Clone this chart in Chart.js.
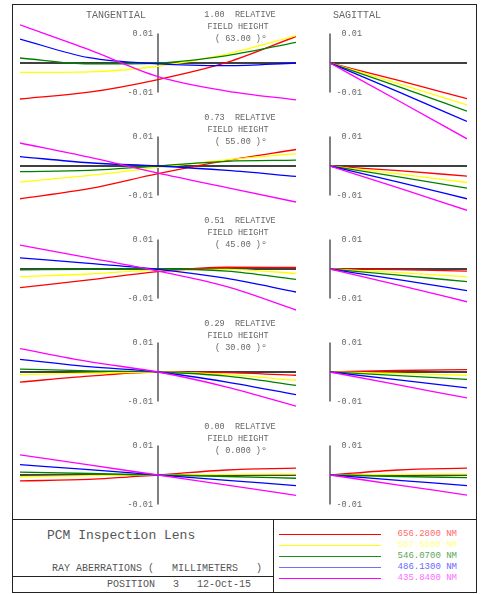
<!DOCTYPE html>
<html>
<head>
<meta charset="utf-8">
<script src="https://cdn.jsdelivr.net/npm/chart.js@4"></script>
<style>
  body { margin: 0; background: #fff; width: 485px; height: 594px; overflow: hidden; position: relative; font-family: "Liberation Mono", monospace; }
  canvas { position: absolute; }
  .frame { position: absolute; border: 1.5px solid #222; box-sizing: border-box; }
  .hline { position: absolute; height: 0; border-top: 1.5px solid #222; }
  .vline { position: absolute; width: 0; border-left: 1.5px solid #222; }
  .txt { position: absolute; color: #555; white-space: pre; line-height: 1; }
  .leg { position: absolute; height: 1.6px; left: 279px; width: 102px; }
  .legt { position: absolute; font-size: 9px; right: 28px; white-space: pre; line-height: 1; }
</style>
</head>
<body>

<div class="frame" style="left:12px;top:4px;width:465px;height:589px;"></div>
<div class="hline" style="left:12px;top:519px;width:464px;"></div>
<div class="vline" style="left:273px;top:519px;height:73px;"></div>
<div class="hline" style="left:12px;top:576px;width:261px;"></div>

<div class="txt" style="left:47px;top:529px;font-size:13px;">PCM Inspection Lens</div>
<div class="txt" style="left:52px;top:564px;font-size:10px;">RAY ABERRATIONS (   MILLIMETERS   )</div>
<div class="txt" style="left:107px;top:580px;font-size:10px;">POSITION   3   12-Oct-15</div>

<div id="legend"></div>

<script>
// ---------------------------------
// Data
const wavelengths = ['656.2800 NM', '587.5600 NM', '546.0700 NM', '486.1300 NM', '435.8400 NM'];
const lineColors = ['#ff0000', '#ffff00', '#008000', '#0000ff', '#ff00ff'];
const legendLineColors = ['#ff0000', '#ffff00', '#1a8c1a', '#7070ff', '#ff00ff'];
const textColors = ['#ff6a6a', '#ffff80', '#5aa85a', '#6a6aff', '#ff6aff'];

const fieldRel = ['1.00', '0.73', '0.51', '0.29', '0.00'];
const fieldAngle = ['63.00', '55.00', '45.00', '30.00', '0.000'];

// tangential pupil coordinates
const tanPupil = [-1, -0.5, 0, 0.5, 1];
// sagittal pupil coordinates
const sagPupil = [0, 0.5, 1];

// tangential ray errors, per field: red, yellow, green, blue, magenta
const tanField1 = [
  [-0.0122, -0.0099, -0.0056, 0.0002, 0.0090],
  [-0.0032, -0.0030, -0.0011, 0.0030, 0.0093],
  [0.0017, -0.0003, 0.0000, 0.0025, 0.0070],
  [0.0081, 0.0018, -0.0003, -0.0009, 0.0000],
  [0.0129, 0.0045, -0.0046, -0.0095, -0.0125]
];
const tanField2 = [
  [-0.0111, -0.0077, -0.0026, 0.0019, 0.0056],
  [-0.0054, -0.0032, -0.0005, 0.0021, 0.0042],
  [-0.0019, -0.0015, 0.0000, 0.0016, 0.0020],
  [0.0032, 0.0011, 0.0000, -0.0015, -0.0035],
  [0.0078, 0.0030, -0.0024, -0.0073, -0.0122]
];
const tanField3 = [
  [-0.0063, -0.0037, -0.0009, 0.0006, 0.0005],
  [-0.0026, -0.0017, -0.0003, -0.0001, -0.0015],
  [-0.0003, -0.0001, 0.0000, -0.0007, -0.0035],
  [0.0038, 0.0019, -0.0001, -0.0032, -0.0078],
  [0.0081, 0.0038, -0.0007, -0.0060, -0.0139]
];
const tanField4 = [
  [-0.0034, -0.0014, 0.0000, -0.0002, -0.0011],
  [-0.0009, -0.0004, 0.0000, -0.0009, -0.0028],
  [0.0010, 0.0004, 0.0000, -0.0014, -0.0045],
  [0.0043, 0.0018, 0.0000, -0.0034, -0.0077],
  [0.0079, 0.0035, 0.0000, -0.0051, -0.0116]
];
const tanField5 = [
  [-0.0020, -0.0015, 0.0000, 0.0017, 0.0023],
  [-0.0006, -0.0002, 0.0000, 0.0002, 0.0003],
  [0.0010, 0.0005, 0.0000, -0.0005, -0.0011],
  [0.0035, 0.0018, 0.0000, -0.0018, -0.0036],
  [0.0068, 0.0034, 0.0000, -0.0034, -0.0069]
];

// sagittal ray errors, per field: red, yellow, green, blue, magenta
const sagField1 = [
  [0, -0.0059, -0.0121],
  [0, -0.0070, -0.0142],
  [0, -0.0080, -0.0163],
  [0, -0.0098, -0.0198],
  [0, -0.0128, -0.0257]
];
const sagField2 = [
  [0, -0.0016, -0.0034],
  [0, -0.0027, -0.0056],
  [0, -0.0037, -0.0075],
  [0, -0.0055, -0.0111],
  [0, -0.0074, -0.0150]
];
const sagField3 = [
  [0, -0.0002, -0.0007],
  [0, -0.0012, -0.0026],
  [0, -0.0021, -0.0043],
  [0, -0.0036, -0.0073],
  [0, -0.0055, -0.0111]
];
const sagField4 = [
  [0, 0.0005, 0.0008],
  [0, -0.0005, -0.0011],
  [0, -0.0012, -0.0025],
  [0, -0.0027, -0.0054],
  [0, -0.0044, -0.0088]
];
const sagField5 = [
  [0, 0.0017, 0.0023],
  [0, 0.0002, 0.0003],
  [0, -0.0005, -0.0009],
  [0, -0.0018, -0.0036],
  [0, -0.0034, -0.0068]
];

const tanData = [tanField1, tanField2, tanField3, tanField4, tanField5];
const sagData = [sagField1, sagField2, sagField3, sagField4, sagField5];
const axisTicks = ['0.01', '-0.01'];
const axisMax = 0.01;

const rowCenters = [62.5, 165.5, 269, 372, 475];
const canvasH = 170;
const yLimit = 0.0288;


// ---------------------------------
// Legend (bottom right box)
let legendHtml = '';
wavelengths.forEach((w, i) => {
  const y = 533.5 + i * 11;
  legendHtml += `<div class="leg" style="top:${y}px;background:${legendLineColors[i]}"></div>
                 <div class="legt" style="top:${y - 3.5}px;color:${textColors[i]}">${w}</div>`;
});
document.getElementById('legend').innerHTML = legendHtml;


// ---------------------------------
// Axis plugin: vertical axis, tick labels and captions
const axisPlugin = {
  id: 'fanAxis',
  beforeDatasetsDraw(chart, args, opts) {
    const ctx = chart.ctx;
    const xs = chart.scales.x;
    const ys = chart.scales.y;
    const x0 = xs.getPixelForValue(0);
    const yTop = ys.getPixelForValue(axisMax);
    const yBot = ys.getPixelForValue(-axisMax);
    const y0 = ys.getPixelForValue(0);

    ctx.save();
    ctx.strokeStyle = '#555';
    ctx.lineWidth = 1.5;
    ctx.beginPath();
    ctx.moveTo(x0, yTop);
    ctx.lineTo(x0, yBot);
    ctx.stroke();

    ctx.fillStyle = '#666';
    ctx.font = '8.5px "Liberation Mono"';
    ctx.textBaseline = 'middle';
    ctx.textAlign = 'right';
    const tx = opts.sag ? x0 + 32 : x0 - 5;
    ctx.fillText(axisTicks[0], tx, yTop);
    ctx.fillText(axisTicks[1], tx, yBot);

    ctx.textAlign = 'center';
    if (opts.title) {
      ctx.font = '10px "Liberation Mono"';
      ctx.fillText(opts.title, opts.sag ? x0 + 27 : x0 - 42, y0 - 48);
    }
    if (opts.field) {
      ctx.font = '8.5px "Liberation Mono"';
      ctx.fillText(opts.field[0] + '  RELATIVE', x0 + 82, y0 - 48);
      ctx.fillText('FIELD HEIGHT', x0 + 80, y0 - 36.5);
      ctx.fillText('( ' + opts.field[1] + ' )', x0 + 80, y0 - 24);
      const w = ctx.measureText('( ' + opts.field[1] + ' )').width;
      ctx.font = '6px "Liberation Mono"';
      ctx.fillText('o', x0 + 80 + w / 2 + 3, y0 - 27);
    }
    ctx.restore();
  }
};


// ---------------------------------
// Build one fan chart
function makeFan(row, sag) {
  const canvas = document.createElement('canvas');
  const left = sag ? 326 : 16;
  const width = sag ? 145 : 284;
  canvas.width = width;
  canvas.height = canvasH;
  canvas.style.left = left + 'px';
  canvas.style.top = (rowCenters[row] - canvasH / 2) + 'px';
  document.body.appendChild(canvas);

  const pupil = sag ? sagPupil : tanPupil;
  const series = sag ? sagData[row] : tanData[row];

  const datasets = series.map((vals, i) => ({
    data: pupil.map((p, k) => ({ x: p, y: vals[k] })),
    borderColor: lineColors[i],
    borderWidth: 1.3,
    order: 5 - i
  }));
  datasets.push({
    data: [{ x: pupil[0], y: 0 }, { x: pupil[pupil.length - 1], y: 0 }],
    borderColor: '#000',
    borderWidth: 1.5,
    order: 10
  });

  new Chart(canvas, {
    type: 'line',
    data: { datasets: datasets },
    options: {
      responsive: false,
      animation: false,
      devicePixelRatio: 1,
      layout: { padding: { left: 4, right: 4, top: 0, bottom: 0 } },
      elements: {
        point: { radius: 0 },
        line: { cubicInterpolationMode: 'monotone', fill: false }
      },
      scales: {
        x: { type: 'linear', min: sag ? 0 : -1, max: 1, display: false },
        y: { type: 'linear', min: -yLimit, max: yLimit, display: false }
      },
      plugins: {
        legend: { display: false },
        tooltip: { enabled: false },
        fanAxis: {
          sag: sag,
          title: row === 0 ? (sag ? 'SAGITTAL' : 'TANGENTIAL') : null,
          field: sag ? null : [fieldRel[row], fieldAngle[row]]
        }
      }
    },
    plugins: [axisPlugin]
  });
}

for (let r = 0; r < 5; r++) {
  makeFan(r, false);
  makeFan(r, true);
}
</script>
</body>
</html>
